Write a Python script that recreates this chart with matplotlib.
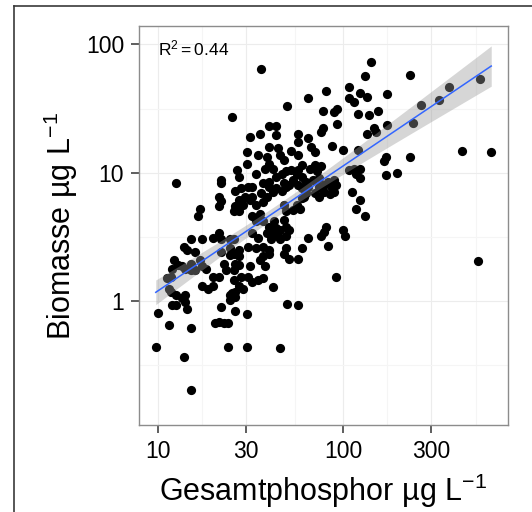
import numpy as np
import matplotlib.pyplot as plt
from matplotlib.lines import Line2D

plt.rcParams["font.family"] = ["Liberation Sans", "DejaVu Sans"]
plt.rcParams["mathtext.fontset"] = "custom"
plt.rcParams["mathtext.rm"] = "Liberation Sans"
plt.rcParams["mathtext.it"] = "Liberation Sans:italic"

# log10 of total phosphorus (µg/L) and biomass (µg/L)
log_tp = [
    1.56, 2.15, 2.12, 2.36, 2.74, 2.57, 2.03, 1.91, 2.09, 2.24, 1.81, 2.03, 2.13, 2.52,
    2.06, 2.42, 1.70, 1.97, 1.95, 1.89, 2.08, 2.19, 2.14, 1.40, 2.38, 1.97, 2.24, 1.64,
    1.60, 1.89, 2.17, 2.18, 1.88, 1.76,
    1.55, 1.50, 2.13, 1.64, 1.81, 1.76, 1.94, 1.83, 1.60, 1.65, 2.00, 2.08, 1.85, 1.48,
    1.72, 2.64, 2.80, 1.54, 1.66, 1.76, 1.59, 2.36, 2.23, 1.68, 2.22, 1.48, 1.60, 1.78,
    1.88, 1.85, 1.43,
    1.76, 1.82, 1.86, 1.72, 1.69, 1.67, 1.62, 1.58, 1.53, 2.03, 2.06, 2.09, 2.07, 2.09,
    2.23, 2.29, 1.44, 1.34, 1.34, 1.10, 1.64, 1.75, 1.78, 1.73, 1.71, 1.76, 1.78, 1.81,
    1.80, 1.84, 1.87, 1.87, 1.90, 1.92, 1.95, 1.96, 1.94, 1.90, 1.87, 1.93, 1.95, 1.85,
    1.80, 1.78, 1.68, 1.69, 1.67, 1.64, 1.62, 1.60, 1.60, 1.57, 1.56, 1.59, 1.57, 1.53,
    1.51, 1.50, 1.47, 1.44, 1.42, 1.45, 1.49, 1.51, 2.05, 2.09, 1.33, 1.34,
    1.42, 1.46, 1.33, 1.23, 2.07, 1.73, 1.77, 1.79, 1.75, 1.68, 1.69, 1.41, 1.44, 1.55,
    1.22, 2.12, 1.51, 1.68, 1.63, 1.57, 1.53, 1.60, 1.64, 1.69, 1.66, 1.71, 1.91, 2.00,
    1.90, 1.59, 1.62, 1.51, 1.33, 1.30, 1.34, 1.39, 1.41, 1.24, 1.18,
    1.61, 1.65, 1.69, 2.01, 1.88, 1.81, 1.66, 1.54, 1.92, 1.78, 1.69, 1.49, 1.57, 1.53,
    1.44, 1.60, 1.39, 1.16, 1.20, 1.14, 1.34, 1.68, 1.60, 1.41, 1.39, 1.44, 1.57, 1.71,
    1.76, 2.73, 1.55, 1.23, 1.09, 1.18, 1.36, 1.42, 1.44, 1.58, 1.50,
    1.20, 1.24, 1.26, 1.08, 1.11, 1.13, 1.15, 1.18, 1.37, 1.41, 1.96, 1.30, 1.33, 1.45,
    1.49, 1.54, 1.51, 1.57, 1.07, 1.05, 1.41, 1.24, 1.30, 1.44, 1.27, 1.62, 1.46, 1.07,
    1.06, 1.42, 1.39, 1.42, 1.40, 1.10, 1.15, 1.13, 1.39,
    1.15, 1.70, 1.76, 1.08, 1.10, 1.16, 1.34, 1.42, 1.00, 1.48, 1.31, 1.33, 1.36, 1.38,
    1.06, 1.18, 0.99, 1.38, 1.48, 1.66, 1.14, 1.18,
]
log_biomass = [
    1.81, 1.86, 1.75, 1.76, 1.73, 1.67, 1.67, 1.64, 1.62, 1.61, 1.58, 1.58, 1.59, 1.57,
    1.55, 1.53, 1.52, 1.50, 1.47, 1.48, 1.46, 1.48, 1.45, 1.43, 1.39, 1.38, 1.37, 1.36,
    1.36, 1.35, 1.35, 1.32, 1.32, 1.30,
    1.30, 1.28, 1.30, 1.29, 1.27, 1.24, 1.21, 1.20, 1.20, 1.19, 1.18, 1.18, 1.16, 1.16,
    1.17, 1.17, 1.16, 1.14, 1.14, 1.14, 1.12, 1.12, 1.12, 1.10, 1.09, 1.07, 1.07, 1.06,
    1.05, 1.06, 1.02,
    1.02, 1.03, 1.01, 1.02, 1.01, 0.99, 1.03, 1.03, 0.99, 1.02, 1.03, 1.03, 0.99, 0.96,
    0.98, 1.00, 0.97, 0.94, 0.92, 0.92, 0.97, 0.99, 0.97, 0.94, 0.90, 0.90, 0.88, 0.89,
    0.93, 0.94, 0.96, 0.89, 0.90, 0.93, 0.94, 0.90, 0.88, 0.85, 0.81, 0.83, 0.85, 0.84,
    0.84, 0.80, 0.92, 0.89, 0.86, 0.88, 0.85, 0.89, 0.93, 0.92, 0.84, 0.81, 0.77, 0.75,
    0.81, 0.79, 0.81, 0.79, 0.86, 0.88, 0.89, 0.89, 0.85, 0.79, 0.81, 0.78,
    0.74, 0.75, 0.74, 0.72, 0.72, 0.71, 0.72, 0.81, 0.75, 0.75, 0.70, 0.70, 0.70, 0.68,
    0.66, 0.66, 0.66, 0.63, 0.62, 0.62, 0.62, 0.58, 0.57, 0.58, 0.55, 0.55, 0.58, 0.55,
    0.54, 0.53, 0.53, 0.53, 0.53, 0.49, 0.48, 0.48, 0.48, 0.48, 0.48,
    0.48, 0.51, 0.51, 0.51, 0.51, 0.49, 0.48, 0.49, 0.43, 0.41, 0.41, 0.42, 0.42, 0.41,
    0.40, 0.40, 0.41, 0.40, 0.38, 0.42, 0.38, 0.37, 0.37, 0.37, 0.36, 0.35, 0.35, 0.33,
    0.33, 0.31, 0.32, 0.32, 0.32, 0.29, 0.29, 0.29, 0.28, 0.27, 0.27,
    0.24, 0.27, 0.25, 0.25, 0.28, 0.27, 0.25, 0.24, 0.24, 0.24, 0.19, 0.19, 0.19, 0.19,
    0.19, 0.16, 0.15, 0.18, 0.19, 0.18, 0.16, 0.12, 0.12, 0.12, 0.09, 0.11, 0.09, 0.07,
    0.09, 0.07, 0.05, 0.03, 0.06, 0.05, 0.05, 0.02, 0.01,
    -0.01, -0.02, -0.03, -0.03, -0.03, -0.06, -0.05, -0.08, -0.09, -0.10, -0.17, -0.16, -0.17, -0.17,
    -0.19, -0.21, -0.36, -0.36, -0.36, -0.37, -0.44, -0.69,
]

X_TICKS = [10, 30, 100, 300]
Y_TICKS = [1, 10, 100]
X_MINOR = [17.3, 54.8, 173, 520]
Y_MINOR = [0.316, 3.16, 31.6]
Y_LIMITS = (0.108, 139)
R2_TEXT = r"$\mathregular{R^2 = 0.44}$"
X_LABEL = r"Gesamtphosphor µg L$\mathregular{^{-1}}$"
Y_LABEL = r"Biomasse µg L$\mathregular{^{-1}}$"

lx = np.array(log_tp)
ly = np.array(log_biomass)
tp = 10 ** lx
biomass = 10 ** ly

# linear fit on log-log scale with 95% confidence band
n = len(lx)
slope, icpt = np.polyfit(lx, ly, 1)
resid = ly - (icpt + slope * lx)
s = np.sqrt(np.sum(resid ** 2) / (n - 2))
xg = np.linspace(lx.min(), lx.max(), 100)
yg = icpt + slope * xg
se = s * np.sqrt(1 / n + (xg - lx.mean()) ** 2 / np.sum((lx - lx.mean()) ** 2))
t = 1.97

fig = plt.figure(figsize=(5.32, 5.12), dpi=100)
ax = fig.add_axes([139 / 532, 1 - 425 / 512, 369 / 532, 399 / 512])
ax.set_xscale("log")
ax.set_yscale("log")

ax.scatter(tp, biomass, s=44, color="black", linewidths=0, zorder=2)
ax.fill_between(10 ** xg, 10 ** (yg - t * se), 10 ** (yg + t * se),
                color="#999999", alpha=0.4, lw=0, zorder=3)
ax.plot(10 ** xg, 10 ** yg, color="#3366FF", lw=1.1, zorder=4)

pad = 0.05 * (lx.max() - lx.min())
ax.set_xlim(10 ** (lx.min() - pad), 10 ** (lx.max() + pad))
ax.set_ylim(*Y_LIMITS)

ax.set_xticks(X_TICKS)
ax.set_xticklabels([str(v) for v in X_TICKS])
ax.set_yticks(Y_TICKS)
ax.set_yticklabels([str(v) for v in Y_TICKS])
ax.set_xticks(X_MINOR, minor=True)
ax.set_yticks(Y_MINOR, minor=True)
ax.xaxis.set_minor_formatter(plt.NullFormatter())
ax.yaxis.set_minor_formatter(plt.NullFormatter())

ax.grid(which="major", color="#ececec", lw=0.8, zorder=0)
ax.grid(which="minor", color="#f5f5f5", lw=0.8, zorder=0)
ax.set_axisbelow(True)

ax.tick_params(which="major", length=5.8, width=1.1, color="#333333",
               labelsize=16.5, labelcolor="black", pad=5)
ax.tick_params(which="minor", length=0)
for sp in ax.spines.values():
    sp.set_color("#8c8c8c")
    sp.set_linewidth(1.0)

ax.set_xlabel(X_LABEL, fontsize=22, labelpad=6)
ax.set_ylabel(Y_LABEL, fontsize=22, labelpad=4)

ax.text(10, 93, R2_TEXT, fontsize=12.5, ha="left", va="center")

# outer frame of the original screenshot
fig.add_artist(Line2D([14 / 532, 14 / 532], [0, 1 - 6 / 512],
                      transform=fig.transFigure, color="#3a3a3a", lw=1.2))
fig.add_artist(Line2D([14 / 532, 1], [1 - 6 / 512, 1 - 6 / 512],
                      transform=fig.transFigure, color="#3a3a3a", lw=1.2))

fig.savefig("out.png", dpi=100)
